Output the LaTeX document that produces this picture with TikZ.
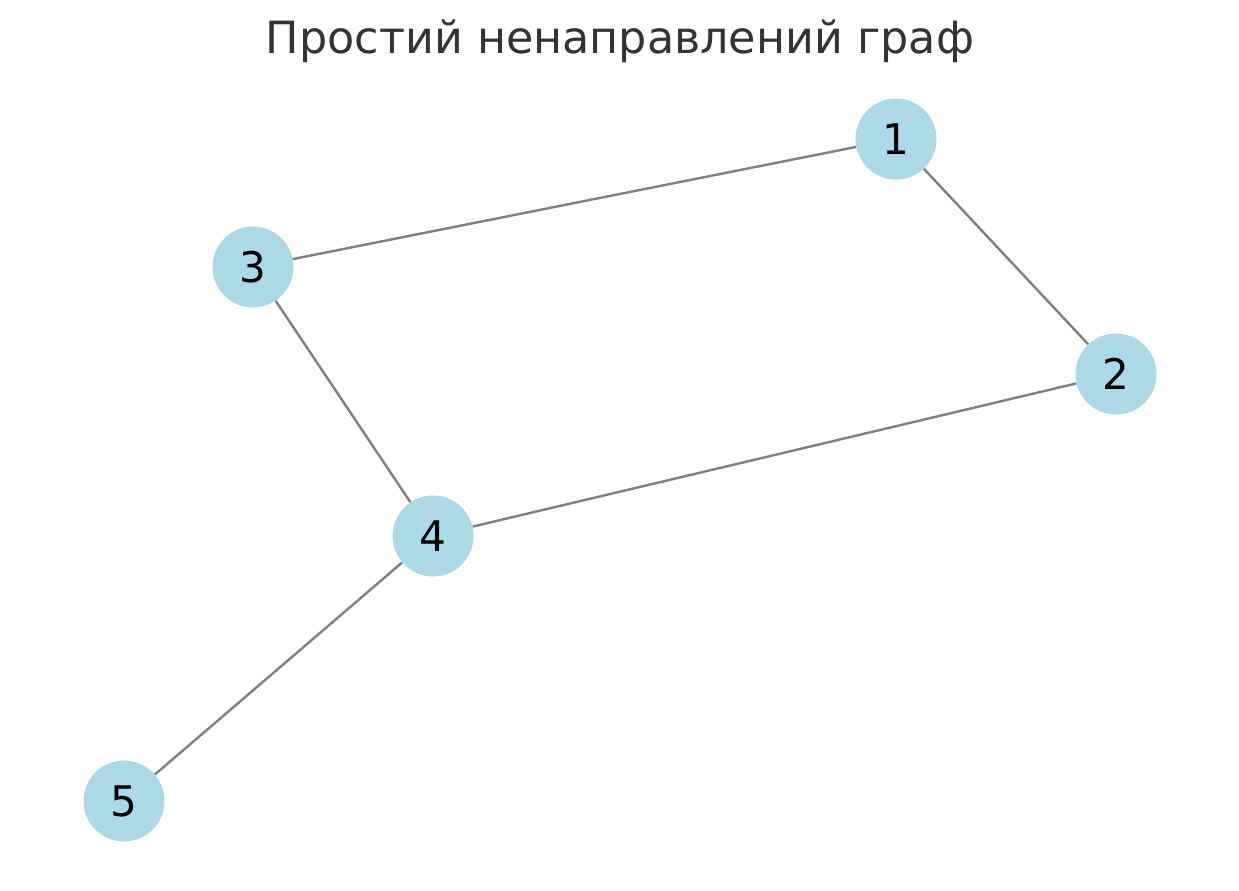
\documentclass[tikz,border=0pt]{standalone}
\usepackage{fontspec}
\setmainfont{DejaVu Sans}
\definecolor{nodeblue}{HTML}{ADD8E6}
\definecolor{titlegray}{HTML}{333333}

\begin{document}
\begin{tikzpicture}[x=0.2mm, y=-0.2mm,
    vertex/.style={circle, fill=nodeblue, minimum size=16.2mm, inner sep=0pt, font=\fontsize{24}{28}\selectfont},
    edge/.style={draw=gray, line width=0.48mm}]
                \useasboundingbox (0,0) rectangle (1239,890);
                \node[text=titlegray, font=\fontsize{25.3}{30}\selectfont] (title) at (620,41) {Простий ненаправлений граф};
                \node[vertex] (v1) at (896,139) {1};
                \node[vertex] (v2) at (1116,374) {2};
                \node[vertex] (v3) at (253,267) {3};
                \node[vertex] (v4) at (433,536) {4};
                \node[vertex] (v5) at (124,801) {5};
                \draw[edge] (v1) -- (v2);
                \draw[edge] (v1) -- (v3);
                \draw[edge] (v2) -- (v4);
                \draw[edge] (v3) -- (v4);
                \draw[edge] (v4) -- (v5);
            \end{tikzpicture}
\end{document}
